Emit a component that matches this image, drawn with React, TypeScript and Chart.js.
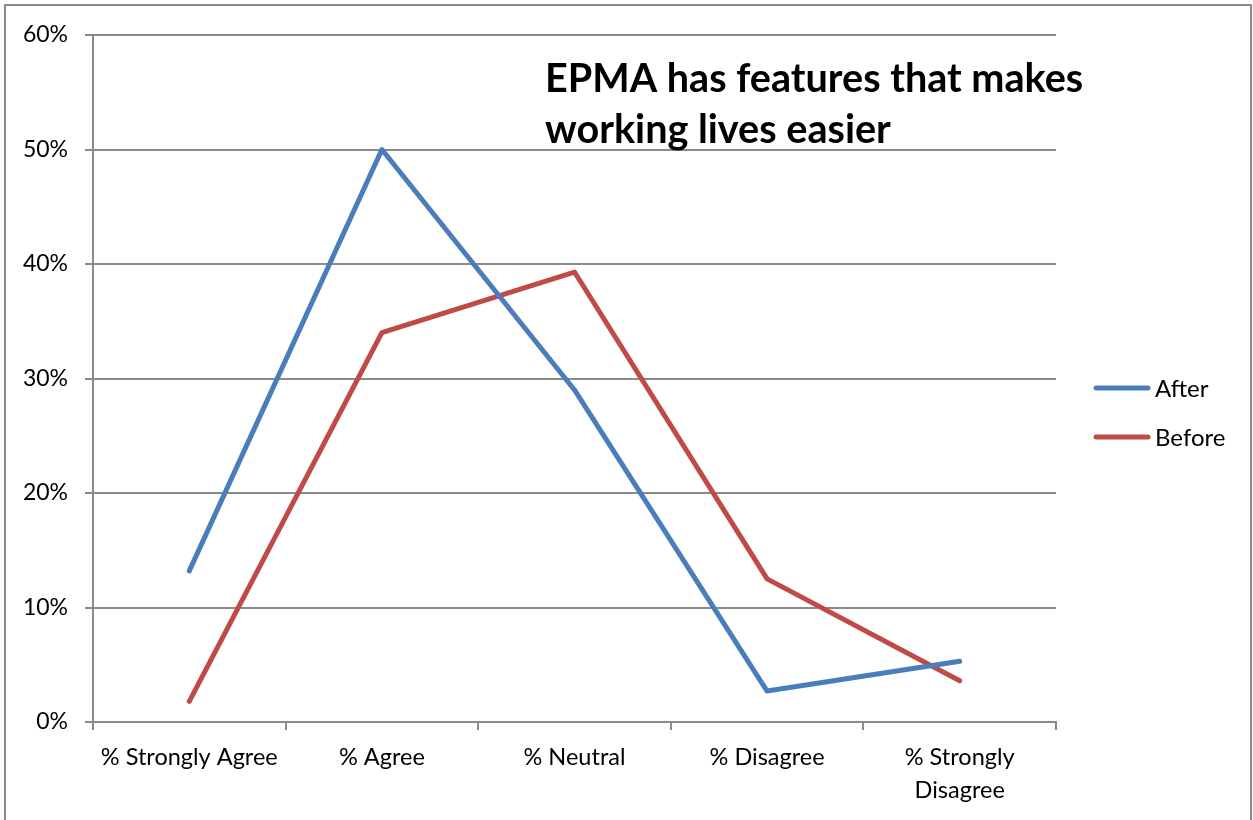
import React, { useEffect, useRef } from "react";
import { Chart, registerables } from "chart.js";

Chart.register(...registerables);

const categories: (string | string[])[] = [
  "% Strongly Agree",
  "% Agree",
  "% Neutral",
  "% Disagree",
  ["% Strongly", "Disagree"],
];
const afterValues = [0.132, 0.5, 0.29, 0.027, 0.053];
const beforeValues = [0.018, 0.34, 0.393, 0.125, 0.036];
const seriesNames = ["After", "Before"];
const seriesColors = ["#4A7EBB", "#BE4B48"];
const titleLines = ["EPMA has features that makes", "working lives easier"];

const FONT = "Lato, 'Open Sans', sans-serif";
const GRID = "#8a8a8a";

const titlePlugin = {
  id: "insideTitle",
  afterDraw(chart: any) {
    const ctx = chart.ctx;
    ctx.save();
    ctx.fillStyle = "#000";
    ctx.font = `bold 39.6px ${FONT}`;
    ctx.textAlign = "left";
    ctx.textBaseline = "alphabetic";
    titleLines.forEach((line, i) => {
      ctx.fillText(line, 545, 92 + i * 51);
    });
    ctx.restore();
  },
};

const legendPlugin = {
  id: "sideLegend",
  afterDraw(chart: any) {
    const ctx = chart.ctx;
    ctx.save();
    chart.data.datasets.forEach((ds: any, i: number) => {
      const y = 388 + i * 49;
      ctx.strokeStyle = ds.borderColor;
      ctx.lineWidth = 5;
      ctx.lineCap = "round";
      ctx.beginPath();
      ctx.moveTo(1096, y);
      ctx.lineTo(1148, y);
      ctx.stroke();
      ctx.fillStyle = "#000";
      ctx.font = `24px ${FONT}`;
      ctx.textAlign = "left";
      ctx.textBaseline = "middle";
      ctx.fillText(ds.label, 1155, y + 1);
    });
    ctx.restore();
  },
};

export default function App() {
  const ref = useRef<HTMLCanvasElement>(null);
  useEffect(() => {
    if (!ref.current) return;
    const chart = new Chart(ref.current, {
      type: "line",
      data: {
        labels: categories as any,
        datasets: [afterValues, beforeValues].map((vals, i) => ({
          label: seriesNames[i],
          data: vals,
          borderColor: seriesColors[i],
          backgroundColor: seriesColors[i],
          borderWidth: 5,
          pointRadius: 0,
          borderCapStyle: "round" as const,
          borderJoinStyle: "round" as const,
          tension: 0,
        })),
      },
      options: {
        responsive: false,
        animation: false,
        layout: { padding: { left: 0, top: 35, right: 197, bottom: 0 } },
        plugins: {
          legend: { display: false },
          title: { display: false },
          tooltip: { enabled: false },
        },
        scales: {
          x: {
            type: "category",
            offset: true,
            grid: {
              offset: true,
              drawOnChartArea: false,
              drawTicks: true,
              tickLength: 8,
              color: GRID,
              lineWidth: 2,
            },
            border: { display: true, color: GRID, width: 2 },
            ticks: {
              color: "#000",
              font: { family: FONT, size: 23.5, lineHeight: 1.4 },
              padding: 11,
              maxRotation: 0,
              autoSkip: false,
            },
            afterFit(scale: any) {
              scale.height = 98;
            },
          },
          y: {
            min: 0,
            max: 0.6,
            grid: {
              color: GRID,
              lineWidth: 2,
              drawTicks: true,
              tickLength: 8,
            },
            border: { display: true, color: GRID, width: 2 },
            ticks: {
              stepSize: 0.1,
              color: "#000",
              font: { family: FONT, size: 23 },
              padding: 17,
              callback: (v: any) => `${Math.round(Number(v) * 100)}%`,
            },
            afterFit(scale: any) {
              scale.width = 93;
            },
          },
        },
      },
      plugins: [titlePlugin, legendPlugin],
    });
    return () => chart.destroy();
  }, []);

  return (
    <div
      style={{
        position: "absolute",
        left: 0,
        top: 0,
        width: 1253,
        height: 820,
        overflow: "hidden",
        background: "#fff",
      }}
    >
      <div
        style={{
          position: "absolute",
          left: 4,
          top: 4,
          width: 1248,
          height: 840,
          border: `2px solid ${GRID}`,
          boxSizing: "border-box",
        }}
      />
      <canvas
        ref={ref}
        width={1253}
        height={820}
        style={{ position: "absolute", left: 0, top: 0 }}
      />
    </div>
  );
}
